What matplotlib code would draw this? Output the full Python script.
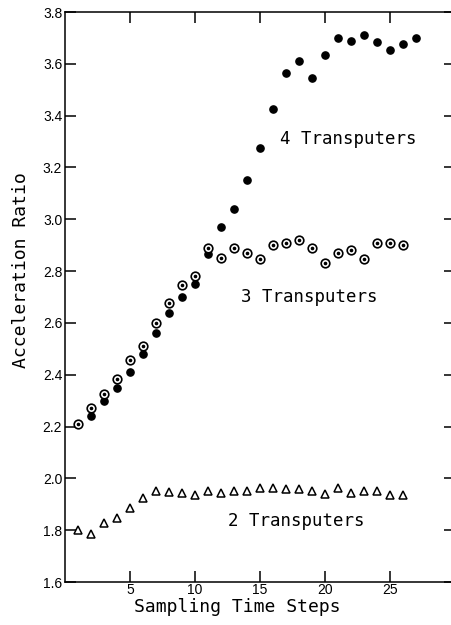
import numpy as np
import matplotlib.pyplot as plt

# sampling time steps
steps_4 = np.arange(1, 28)
steps_3 = np.arange(1, 27)
steps_2 = np.arange(1, 27)

# acceleration ratios
ratio_4 = [2.21, 2.24, 2.30, 2.35, 2.41, 2.48, 2.56, 2.64, 2.70, 2.75,
           2.865, 2.97, 3.04, 3.15, 3.275, 3.425, 3.565, 3.61, 3.545, 3.635,
           3.70, 3.69, 3.71, 3.685, 3.655, 3.675, 3.70]
ratio_3 = [2.21, 2.27, 2.325, 2.385, 2.455, 2.51, 2.60, 2.675, 2.745, 2.78,
           2.89, 2.85, 2.89, 2.87, 2.848, 2.90, 2.91, 2.92, 2.888, 2.83,
           2.87, 2.88, 2.847, 2.91, 2.91, 2.90]
ratio_2 = [1.80, 1.787, 1.827, 1.846, 1.887, 1.926, 1.953, 1.949, 1.944, 1.935,
           1.953, 1.944, 1.951, 1.953, 1.962, 1.962, 1.96, 1.958, 1.951, 1.94,
           1.962, 1.944, 1.953, 1.953, 1.937, 1.937]

xticks = [5, 10, 15, 20, 25]
yticks = [1.6, 1.8, 2.0, 2.2, 2.4, 2.6, 2.8, 3.0, 3.2, 3.4, 3.6, 3.8]

mono = 'DejaVu Sans Mono'

fig = plt.figure(figsize=(4.52, 6.25), dpi=100)
ax = fig.add_axes([65/452, 43/625, 390/452, 570/625])

ax.plot(steps_4, ratio_4, 'o', color='black', markersize=5.2, zorder=3)
ax.plot(steps_3, ratio_3, 'o', markerfacecolor='white', markeredgecolor='black',
        markeredgewidth=1.2, markersize=6.2, zorder=4)
ax.plot(steps_3, ratio_3, 'o', color='black', markersize=1.6, zorder=5)
ax.plot(steps_2, ratio_2, '^', markerfacecolor='white', markeredgecolor='black',
        markeredgewidth=1.1, markersize=6, zorder=3)

ax.text(16.55, 3.31, '4 Transputers', family=mono, fontsize=12.5, va='center')
ax.text(13.55, 2.70, '3 Transputers', family=mono, fontsize=12.5, va='center')
ax.text(12.55, 1.837, '2 Transputers', family=mono, fontsize=12.5, va='center')

ax.set_xlim(0, 30)
ax.set_ylim(1.6, 3.8)
ax.set_xticks(xticks)
ax.set_yticks(yticks)
ax.set_yticklabels(['%.1f' % v for v in yticks])
ax.tick_params(direction='in', length=8, width=1.1, top=True, right=True,
               labelsize=10, pad=2)
ax.tick_params(axis='x', pad=1)
for lab in ax.get_xticklabels() + ax.get_yticklabels():
    lab.set_family('Liberation Sans')
for sp in ax.spines.values():
    sp.set_linewidth(1.1)

fig.text(237/452, 1 - 607/625, 'Sampling Time Steps', family=mono, fontsize=13,
         ha='center', va='center')
fig.text(21/452, 1 - 270/625, 'Acceleration Ratio', family=mono, fontsize=13,
         ha='center', va='center', rotation=90)

plt.savefig('out.png', dpi=100)
